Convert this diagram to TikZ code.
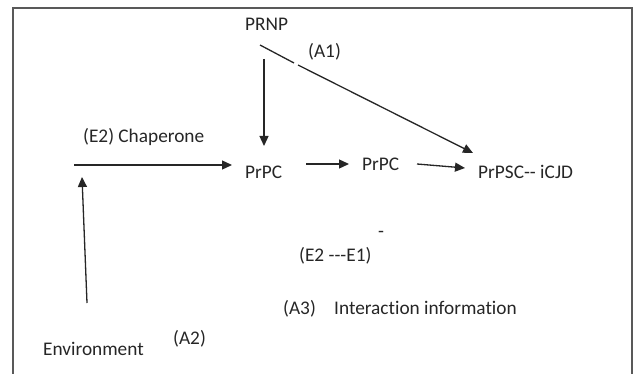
\documentclass[tikz,border=0pt]{standalone}
\usepackage{fontspec}
\newfontfamily\cf{Carlito}[Ligatures=NoCommon]
\usetikzlibrary{arrows.meta}
\begin{document}
\begin{tikzpicture}[x=1pt,y=-1pt,
  lbl/.style={anchor=base west,inner sep=0pt,font=\cf\fontsize{19.3}{22}\selectfont,text=black!85},
  conn/.style={line width=1.3pt,draw=black!85},
  arr/.style={conn,-{Triangle[length=10pt,width=9pt]}},
  frame/.style={line width=1.2pt,draw=black!65}]
\useasboundingbox (0,0) rectangle (637,374);
\draw[frame] (13,374) -- (13,8) -- (632,8) -- (632,374);
% labels
\node[lbl] (prnp) at (245,31) {PRNP};
\node[lbl] (a1) at (308,58) {(A1)};
\node[lbl] (chap) at (83,143) {(E2) Chaperone};
\node[lbl] (prpc1) at (245,179) {PrPC};
\node[lbl] (prpc2) at (362,171) {PrPC};
\node[lbl] (prpsc) at (478,179) {PrPSC-- iCJD};
\node[lbl,anchor=base] (dash) at (381,237) {-};
\node[lbl] (e2e1) at (299,261) {(E2 ---E1)};
\node[lbl] (a3) at (283,314) {(A3)};
\node[lbl] (inter) at (334,314) {Interaction information};
\node[lbl] (env) at (43,355) {Environment};
\node[lbl] (a2) at (173,344) {(A2)};
% connector end points
\coordinate (d0) at (260,45);
\coordinate (d1) at (294,63);
\coordinate (d2) at (298,65);
\coordinate (d3) at (473,153);
\coordinate (v0) at (264,59);
\coordinate (v1) at (264,146);
\coordinate (h0) at (74,165);
\coordinate (h1) at (232,165);
\coordinate (u0) at (87,303);
\coordinate (u1) at (82,177);
\coordinate (p0) at (306,164);
\coordinate (p1) at (349,164);
\coordinate (q0) at (417,164);
\coordinate (q1) at (465,168);
% connectors
\draw[conn] (d0) -- (d1);
\draw[arr] (d2) -- (d3);
\draw[arr] (v0) -- (v1);
\draw[arr] (h0) -- (h1);
\draw[arr] (u0) -- (u1);
\draw[arr] (p0) -- (p1);
\draw[arr] (q0) -- (q1);
\end{tikzpicture}
\end{document}
